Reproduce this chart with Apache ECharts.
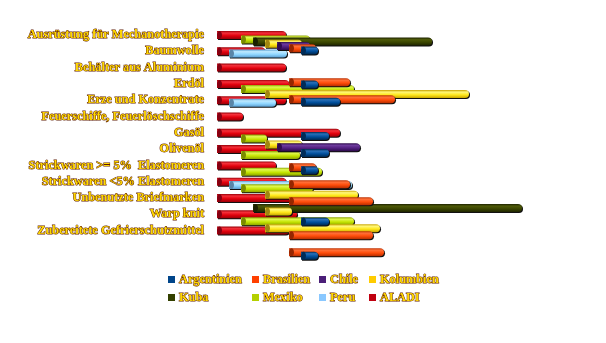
<!DOCTYPE html>
<html>
<head>
<meta charset="utf-8">
<script src="https://cdn.jsdelivr.net/npm/echarts@6/dist/echarts.min.js"></script>
<style>
  html, body {margin: 0; padding: 0; background: #fff;}
  #chart {width: 606px; height: 343px;}
</style>
</head>
<body>
<div id="chart"></div>
<script>
// categories, top to bottom
var categories = [
  'Ausrüstung für Mechanotherapie',
  'Baumwolle',
  'Behälter aus Aluminium',
  'Erdöl',
  'Erze und Konzentrate',
  'Feuerschiffe, Feuerlöschschiffe',
  'Gasöl',
  'Olivenöl',
  'Strickwaren >= 5%  Elastomeren',
  'Strickwaren <5% Elastomeren',
  'Unbenutzte Briefmarken',
  'Warp knit',
  'Zubereitete Gefrierschutzmittel'
];

// values per series (null = no bar)
var argentinien = [17, null, 17, 39, null, 28, 28, 17, null, null, 28, null, 17];
var brasilien   = [27, null, 61, 106, null, null, null, 27, 61, 84, null, 84, 95];
var chile       = [33, null, null, null, null, null, 83, null, null, null, null, null, null];
var kolumbien   = [37, null, null, 204, null, null, 37, null, null, 93, 27, 115, null];
var kuba        = [179, null, null, null, null, null, null, null, null, null, 269, null, null];
var mexiko      = [69, null, null, 113, null, null, 26, 59, 81, 72, null, 113, null];
var peru        = [null, 58, null, null, 47, null, null, null, null, 123, null, null, null];
var aladi       = [69, 48, 69, 72, 69, 26, 123, 75, 59, 69, 78, 80, 72];

// legend layout: two rows of four
var legendRows = [
  ['Argentinien', 'Brasilien', 'Chile', 'Kolumbien'],
  ['Kuba', 'Mexiko', 'Peru', 'ALADI']
];

// depth order: ALADI at front-left, Argentinien furthest (drawn on top)
var seriesDefs = [
  {name: 'ALADI',       data: aladi,       legend: '#c00010', base: '#e0000c', light: '#f5303a', dark: '#9a0008', cap: '#860012'},
  {name: 'Peru',        data: peru,        legend: '#8ac8ff', base: '#8fd6ff', light: '#bfeaff', dark: '#5a9ed0', cap: '#5a86a8'},
  {name: 'Mexiko',      data: mexiko,      legend: '#b4d000', base: '#c4e400', light: '#e0f850', dark: '#8ca400', cap: '#7a8a00'},
  {name: 'Kuba',        data: kuba,        legend: '#334000', base: '#3a4500', light: '#4e5a08', dark: '#1e2400', cap: '#1a2000'},
  {name: 'Kolumbien',   data: kolumbien,   legend: '#ffcc00', base: '#ffe81a', light: '#fff77a', dark: '#c8a400', cap: '#a08610'},
  {name: 'Chile',       data: chile,       legend: '#4b1f78', base: '#521f80', light: '#6e3c9e', dark: '#2c0a4a', cap: '#300c50'},
  {name: 'Brasilien',   data: brasilien,   legend: '#ff4000', base: '#ff4c0a', light: '#ff7038', dark: '#b82e00', cap: '#962600'},
  {name: 'Argentinien', data: argentinien, legend: '#00458a', base: '#004e9a', light: '#2a70b8', dark: '#00284e', cap: '#002c58'}
];

var textFont = {
  fontFamily: '"Liberation Serif", "DejaVu Serif", serif',
  fontWeight: 'bold',
  fontSize: 12.3,
  color: '#ffd800',
  textBorderColor: '#5a1800',
  textBorderWidth: 1
};

var band0 = 16.3;
var grids = [], xAxes = [], yAxes = [], series = [];

seriesDefs.forEach(function (s, k) {
  var band = band0 * (1 + 0.0071 * k);
  grids.push({
    left: 217 + 12 * k,
    top: 35 + 2.2 * k - band / 2,
    width: 300,
    height: band * categories.length,
    outerBoundsMode: 'none'
  });
  xAxes.push({type: 'value', gridIndex: k, min: 0, max: 300, show: false});
  yAxes.push({
    type: 'category', gridIndex: k, data: categories, inverse: true,
    show: k === 0,
    axisLine: {show: false}, axisTick: {show: false}, splitLine: {show: false},
    axisLabel: Object.assign({margin: 13}, textFont)
  });
  series.push({
    name: s.name,
    type: 'custom',
    xAxisIndex: k,
    yAxisIndex: k,
    z: 2 + k,
    itemStyle: {color: s.legend},
    encode: {x: 0, y: 1},
    data: s.data.map(function (v, i) { return [v, i]; }).filter(function (d) { return d[0] != null; }),
    renderItem: function (params, api) {
      var p0 = api.coord([0, api.value(1)]);
      var p1 = api.coord([api.value(0), api.value(1)]);
      var h = 8, x = p0[0], y = p0[1] - h / 2, w = p1[0] - p0[0];
      return {
        type: 'group',
        children: [
          {type: 'rect', shape: {x: x + 1, y: y + 1, width: w, height: h, r: [0, 4, 4, 0]}, style: {fill: '#111'}},
          {type: 'rect', shape: {x: x, y: y, width: w, height: h, r: [0, 4, 4, 0]},
            style: {fill: new echarts.graphic.LinearGradient(0, 0, 0, 1, [
              {offset: 0, color: s.dark},
              {offset: 0.25, color: s.light},
              {offset: 0.6, color: s.base},
              {offset: 1, color: s.dark}
            ])}},
          {type: 'ellipse', shape: {cx: x + 2.5, cy: p0[1], rx: 2.5, ry: h / 2}, style: {fill: s.cap}}
        ]
      };
    }
  });
});

// one small legend per entry so the columns line up
var colLeft = [168, 252, 319, 369];
var rowTop = [273, 291];
var legends = [];
legendRows.forEach(function (row, r) {
  row.forEach(function (n, j) {
    var def = seriesDefs.filter(function (s) { return s.name === n; })[0];
    legends.push({
      left: colLeft[j], top: rowTop[r], padding: 0,
      itemWidth: 7, itemHeight: 7, itemGap: 0, icon: 'rect',
      selectedMode: false,
      textStyle: Object.assign({padding: [0, 0, 0, -1]}, textFont),
      data: [{name: n, itemStyle: {color: def.legend}}]
    });
  });
});

var chart = echarts.init(document.getElementById('chart'));
chart.setOption({
  backgroundColor: '#fff',
  animation: false,
  grid: grids,
  xAxis: xAxes,
  yAxis: yAxes,
  legend: legends,
  series: series
});
</script>
</body>
</html>
